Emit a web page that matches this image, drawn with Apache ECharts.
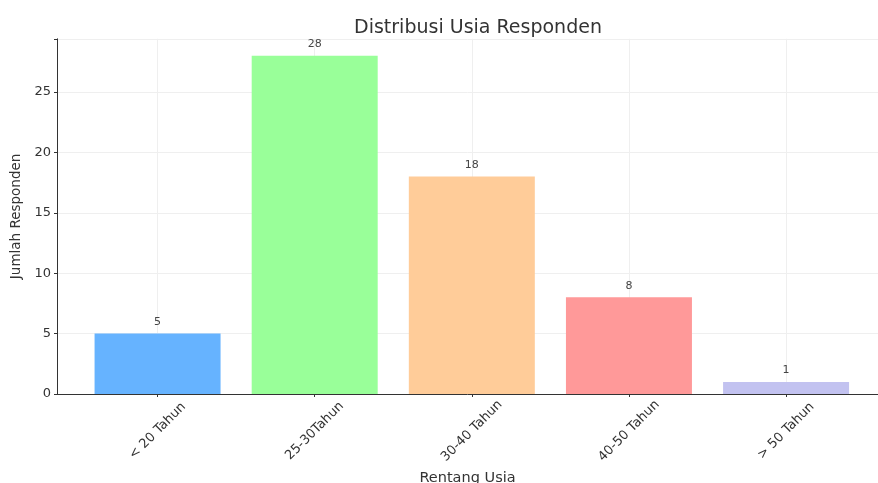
<!DOCTYPE html>
<html><head><meta charset="utf-8">
<script src="https://cdn.jsdelivr.net/npm/echarts@6/dist/echarts.min.js"></script>
<style>html,body{margin:0;padding:0;background:#fff}#c{width:878px;height:483px}</style>
</head><body><div id="c"></div>
<script>
const categories = ['< 20 Tahun', '25-30Tahun', '30-40 Tahun', '40-50 Tahun', '> 50 Tahun'];
const values = [5, 28, 18, 8, 1];
const colors = ['#66b3ff', '#99ff99', '#ffcc99', '#ff9999', '#c2c2f0'];
const yTicks = [0, 5, 10, 15, 20, 25];

const chart = echarts.init(document.getElementById('c'), null, {renderer: 'canvas'});
const font = 'DejaVu Sans';
chart.setOption({
  animation: false,
  title: {text: 'Distribusi Usia Responden', left: 473, top: 14, textAlign: 'center',
    textStyle: {fontFamily: font, fontSize: 19, fontWeight: 'normal', color: '#333'}},
  grid: {left: 57, right: 0, top: 38.8, bottom: 89, containLabel: false, outerBoundsMode: 'none'},
  xAxis: {
    type: 'value', min: -0.64, max: 4.585, interval: 1,
    name: 'Rentang Usia', nameLocation: 'middle', nameGap: 76,
    nameTextStyle: {fontFamily: font, fontSize: 14.5, color: '#333'},
    axisLine: {show: true, onZero: false, lineStyle: {color: '#333', width: 1}},
    axisTick: {show: true, length: 3, lineStyle: {color: '#333'}, customValues: [0,1,2,3,4]},
    splitLine: {show: true, lineStyle: {color: '#efefef', width: 1}},
    axisLabel: {fontFamily: font, fontSize: 13, color: '#333', rotate: 45, align: 'center', verticalAlign: 'middle', margin: 37,
      customValues: [0,1,2,3,4],
      formatter: v => categories[Math.round(v)] || ''}
  },
  yAxis: {
    type: 'value', min: 0, max: 29.4, interval: 5,
    name: 'Jumlah Responden', nameLocation: 'middle', nameGap: 34,
    nameTextStyle: {fontFamily: font, fontSize: 13.5, color: '#333'},
    axisLine: {show: true, onZero: false, lineStyle: {color: '#333', width: 1}},
    axisTick: {show: true, length: 3, lineStyle: {color: '#333'}},
    splitLine: {show: true, lineStyle: {color: '#efefef', width: 1}},
    axisLabel: {fontFamily: font, fontSize: 13, color: '#333', margin: 6,
      formatter: v => yTicks.includes(v) ? String(v) : ''}
  },
  series: [{
    type: 'bar', barWidth: 126,
    data: values.map((v, i) => ({value: [i, v], itemStyle: {color: colors[i]}})),
    label: {show: true, position: 'top', distance: 6, fontFamily: font, fontSize: 11, color: '#444',
      formatter: p => p.value[1]}
  }]
});
</script></body></html>
